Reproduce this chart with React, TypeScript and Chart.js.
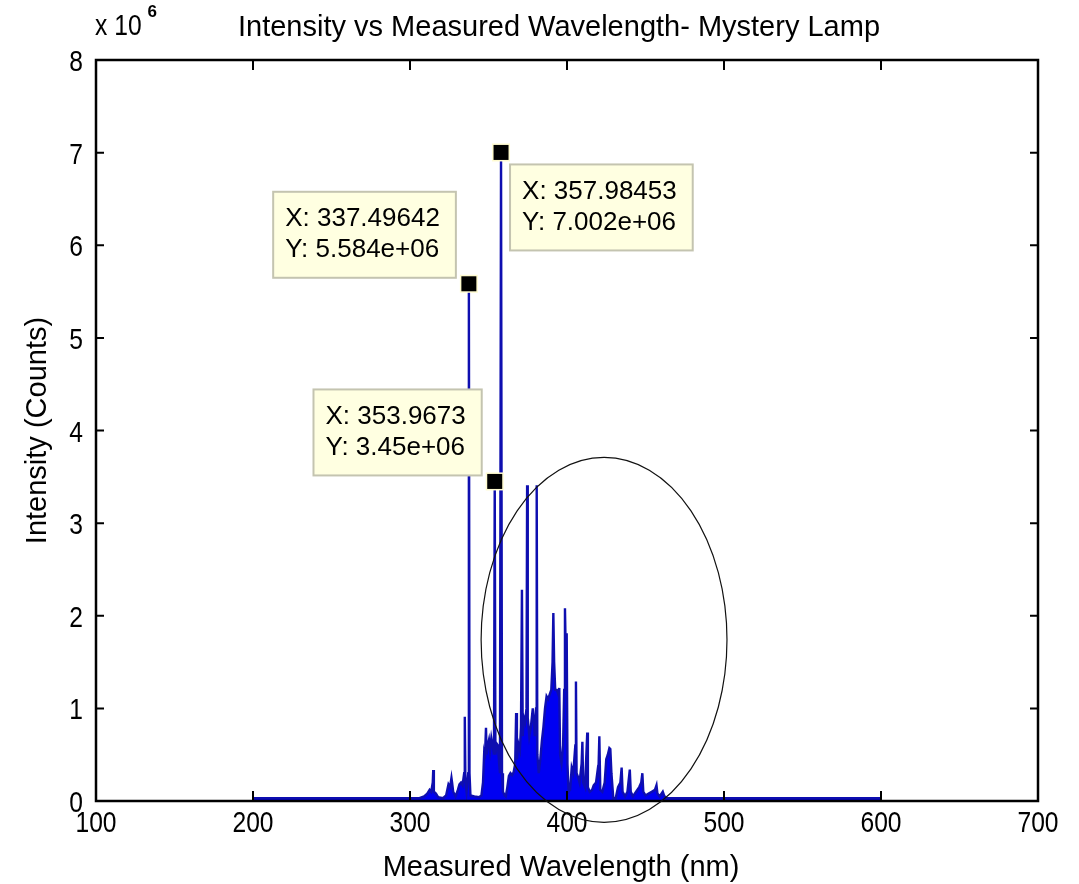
import React, { useEffect, useRef } from "react";
import { Chart, registerables } from "chart.js";

Chart.register(...registerables);

// ---- Data (wavelength in nm, intensity in units of 1e6 counts) ----
const wavelengthNm = [
  200.0, 300.0, 306.0, 309.0, 311.0, 312.5, 313.5, 314.5, 314.8, 315.2,
  316.5, 318.0, 321.0, 323.0, 324.5, 325.5, 326.4, 326.8, 327.5, 329.0,
  330.5, 331.5, 332.5, 333.5, 334.5, 334.9, 335.3, 336.0, 337.1, 337.5,
  337.9, 338.5, 341.0, 344.0, 345.5, 346.5, 347.2, 347.7, 348.4, 348.8,
  349.5, 350.3, 351.0, 351.8, 352.6, 353.5, 353.97, 354.4, 355.2, 356.0,
  356.8, 357.3, 357.98, 358.6, 359.2, 360.3, 361.0, 362.0, 363.0, 364.0,
  365.0, 366.0, 367.0, 367.6, 368.1, 369.0, 370.0, 370.7, 371.3, 371.8,
  372.5, 373.3, 374.2, 374.6, 375.0, 376.0, 377.0, 378.2, 378.7, 379.5,
  380.3, 380.7, 381.1, 382.0, 383.0, 384.0, 385.0, 386.0, 387.0, 388.0,
  389.0, 390.0, 390.8, 391.3, 391.8, 392.5, 393.5, 394.5, 395.1, 395.6,
  396.5, 397.5, 398.2, 398.7, 399.3, 399.8, 400.3, 401.0, 402.0, 403.0,
  404.0, 405.3, 405.7, 406.1, 407.0, 408.0, 409.3, 409.8, 410.3, 411.5,
  412.9, 413.3, 414.5, 416.0, 417.0, 418.5, 419.5, 420.0, 420.6, 421.2,
  422.5, 424.0, 425.0, 426.0, 427.0, 427.6, 428.3, 429.5, 431.0, 432.5,
  434.0, 434.8, 435.4, 437.0, 438.5, 440.0, 440.6, 442.0, 444.0, 446.0,
  447.3, 448.0, 448.6, 450.0, 452.0, 454.0, 456.0, 457.0, 457.6, 459.0,
  461.0, 461.8, 463.0, 600.0,
];
const intensityMillions = [
  0.03, 0.03, 0.03, 0.05, 0.08, 0.12, 0.1, 0.2, 0.335, 0.1,
  0.08, 0.04, 0.03, 0.06, 0.18, 0.15, 0.25, 0.2, 0.1, 0.05,
  0.12, 0.18, 0.2, 0.17, 0.3, 0.91, 0.2, 0.1, 0.3, 5.584,
  0.3, 0.06, 0.05, 0.04, 0.06, 0.2, 0.5, 0.45, 0.79, 0.5,
  0.6, 0.66, 0.55, 0.68, 0.6, 0.5, 3.45, 0.5, 0.62, 0.6,
  0.4, 0.3, 7.002, 0.3, 0.1, 0.06, 0.05, 0.15, 0.27, 0.3,
  0.28, 0.31, 0.4, 0.95, 0.45, 0.62, 0.55, 0.8, 2.28, 0.7,
  0.9, 0.85, 1.0, 3.41, 0.9, 0.7, 0.8, 1.0, 0.9, 0.7,
  1.0, 3.41, 0.5, 0.3, 0.45, 0.65, 0.8, 1.0, 1.13, 1.1,
  1.15, 1.2, 1.5, 2.03, 1.5, 1.2, 1.2, 1.15, 1.22, 0.5,
  0.41, 0.6, 1.2, 2.08, 1.5, 1.81, 0.4, 0.1, 0.12, 0.36,
  0.3, 0.6, 1.29, 0.3, 0.26, 0.2, 0.4, 0.64, 0.2, 0.15,
  0.74, 0.15, 0.1, 0.12, 0.17, 0.2, 0.33, 0.3, 0.7, 0.12,
  0.1, 0.2, 0.45, 0.5, 0.57, 0.56, 0.3, 0.03, 0.03, 0.15,
  0.2, 0.36, 0.1, 0.05, 0.1, 0.34, 0.1, 0.05, 0.1, 0.15,
  0.2, 0.3, 0.1, 0.06, 0.08, 0.1, 0.12, 0.17, 0.08, 0.05,
  0.1, 0.06, 0.03, 0.03,
];

const xTickValues = [100, 200, 300, 400, 500, 600, 700];
const yTickValues = [0, 1, 2, 3, 4, 5, 6, 7, 8];

const chartTitle = "Intensity vs Measured Wavelength- Mystery Lamp";
const xAxisTitle = "Measured Wavelength (nm)";
const yAxisTitle = "Intensity (Counts)";
const yExponentBase = "x 10";
const yExponent = "6";

// Data tips
const tipWavelengths = [337.49642, 357.98453, 353.9673];
const tipIntensities = [5.584, 7.002, 3.45];
const tipXLabels = ["X: 337.49642", "X: 357.98453", "X: 353.9673"];
const tipYLabels = ["Y: 5.584e+06", "Y: 7.002e+06", "Y: 3.45e+06"];
const tipPlacement = ["upper-left", "lower-right", "upper-left"];

// Hand-drawn ellipse annotation (data units)
const ellipseCenter = [423.6, 1.74];
const ellipseRadii = [78.3, 1.97];

const FONT = '"Liberation Sans", Arial, sans-serif';

function condensedText(ctx: CanvasRenderingContext2D, text: string, x: number, y: number, align: CanvasTextAlign, sx: number) {
  ctx.save();
  ctx.translate(x, y);
  ctx.scale(sx, 1);
  ctx.textAlign = align;
  ctx.fillText(text, 0, 0);
  ctx.restore();
}

const decorPlugin = {
  id: "decor",
  afterDraw(chart: any) {
    const { ctx, chartArea: a, scales } = chart;
    const xs = scales.x;
    const ys = scales.y;
    ctx.save();

    // Axes box
    ctx.strokeStyle = "#000";
    ctx.lineWidth = 2.5;
    ctx.strokeRect(a.left, a.top, a.right - a.left, a.bottom - a.top);

    // Inward tick marks on all four sides
    ctx.lineWidth = 2;
    ctx.beginPath();
    xTickValues.forEach((v) => {
      const px = xs.getPixelForValue(v);
      ctx.moveTo(px, a.bottom);
      ctx.lineTo(px, a.bottom - 10);
      ctx.moveTo(px, a.top);
      ctx.lineTo(px, a.top + 10);
    });
    yTickValues.forEach((v) => {
      const py = ys.getPixelForValue(v);
      ctx.moveTo(a.left, py);
      ctx.lineTo(a.left + 8, py);
      ctx.moveTo(a.right, py);
      ctx.lineTo(a.right - 8, py);
    });
    ctx.stroke();

    // Tick labels (condensed, like the original bitmap font)
    ctx.fillStyle = "#000";
    ctx.textBaseline = "alphabetic";
    ctx.font = `30px ${FONT}`;
    xTickValues.forEach((v) => {
      condensedText(ctx, String(v), xs.getPixelForValue(v), a.bottom + 31, "center", 0.82);
    });
    yTickValues.forEach((v) => {
      condensedText(ctx, String(v), a.left - 13, ys.getPixelForValue(v) + 11, "right", 0.82);
    });

    // Ellipse
    const cx = xs.getPixelForValue(ellipseCenter[0]);
    const cy = ys.getPixelForValue(ellipseCenter[1]);
    const rx = Math.abs(xs.getPixelForValue(ellipseCenter[0] + ellipseRadii[0]) - cx);
    const ry = Math.abs(ys.getPixelForValue(ellipseCenter[1] + ellipseRadii[1]) - cy);
    ctx.beginPath();
    ctx.ellipse(cx, cy, rx, ry, 0, 0, Math.PI * 2);
    ctx.lineWidth = 1.2;
    ctx.strokeStyle = "#111";
    ctx.stroke();

    // Data tips
    ctx.font = `26px ${FONT}`;
    tipWavelengths.forEach((wl, i) => {
      const mx = xs.getPixelForValue(wl);
      const my = ys.getPixelForValue(tipIntensities[i]);
      const tw = Math.max(ctx.measureText(tipXLabels[i]).width, ctx.measureText(tipYLabels[i]).width);
      const bw = tw + 28;
      const bh = 86;
      let bx: number, by: number;
      if (tipPlacement[i] === "upper-left") {
        bx = mx - 13 - bw;
        by = my - 6 - bh;
      } else {
        bx = mx + 9;
        by = my + 12;
      }
      ctx.fillStyle = "#ffffe1";
      ctx.fillRect(bx, by, bw, bh);
      ctx.strokeStyle = "#c4c4b0";
      ctx.lineWidth = 2;
      ctx.strokeRect(bx, by, bw, bh);
      ctx.fillStyle = "#000";
      ctx.textAlign = "left";
      ctx.textBaseline = "middle";
      ctx.fillText(tipXLabels[i], bx + 12, by + 27);
      ctx.fillText(tipYLabels[i], bx + 12, by + 58);
      // marker
      ctx.fillStyle = "#fffbd0";
      ctx.fillRect(mx - 9, my - 9, 18, 18);
      ctx.fillStyle = "#000";
      ctx.fillRect(mx - 7.5, my - 7.5, 15, 15);
    });

    // Titles
    ctx.fillStyle = "#000";
    ctx.textBaseline = "alphabetic";
    ctx.textAlign = "center";
    ctx.font = `29px ${FONT}`;
    const midX = (a.left + a.right) / 2 - 8;
    ctx.fillText(chartTitle, midX, 36);
    ctx.fillText(xAxisTitle, midX + 2, 876);
    ctx.save();
    ctx.translate(46, (a.top + a.bottom) / 2);
    ctx.rotate(-Math.PI / 2);
    ctx.fillText(yAxisTitle, 0, 0);
    ctx.restore();

    // Exponent label
    ctx.font = `29px ${FONT}`;
    condensedText(ctx, yExponentBase, a.left - 1, 35, "left", 0.85);
    const w = ctx.measureText(yExponentBase).width * 0.85;
    ctx.textAlign = "left";
    ctx.font = `bold 17px ${FONT}`;
    ctx.fillText(yExponent, a.left - 1 + w + 6, 17);

    ctx.restore();
  },
};

export default function App() {
  const canvasRef = useRef<HTMLCanvasElement | null>(null);

  useEffect(() => {
    document.body.style.margin = "0";
    const canvas = canvasRef.current;
    if (!canvas) return;
    const points = wavelengthNm.map((x, i) => ({ x, y: intensityMillions[i] }));
    const chart = new Chart(canvas, {
      type: "line",
      data: {
        datasets: [
          {
            data: points,
            borderColor: "#0e0eb0",
            backgroundColor: "#0000f2",
            borderWidth: 2.4,
            fill: "origin",
            pointRadius: 0,
            tension: 0,
          },
        ],
      },
      options: {
        animation: false,
        responsive: false,
        devicePixelRatio: 1,
        layout: { padding: { top: 60, right: 41, left: 0, bottom: 0 } },
        plugins: {
          legend: { display: false },
          tooltip: { enabled: false },
          title: { display: false },
        },
        scales: {
          x: {
            type: "linear",
            min: 100,
            max: 700,
            afterFit: (s: any) => {
              s.height = 83;
            },
            afterBuildTicks: (s: any) => {
              s.ticks = xTickValues.map((v) => ({ value: v }));
            },
            grid: { display: false, drawTicks: false },
            border: { display: false },
            ticks: { display: false },
          },
          y: {
            type: "linear",
            min: 0,
            max: 8,
            afterFit: (s: any) => {
              s.width = 96;
            },
            afterBuildTicks: (s: any) => {
              s.ticks = yTickValues.map((v) => ({ value: v }));
            },
            grid: { display: false, drawTicks: false },
            border: { display: false },
            ticks: { display: false },
          },
        },
      },
      plugins: [decorPlugin],
    });
    return () => chart.destroy();
  }, []);

  return (
    <canvas
      ref={canvasRef}
      width={1079}
      height={884}
      style={{ display: "block", width: 1079, height: 884 }}
    />
  );
}
